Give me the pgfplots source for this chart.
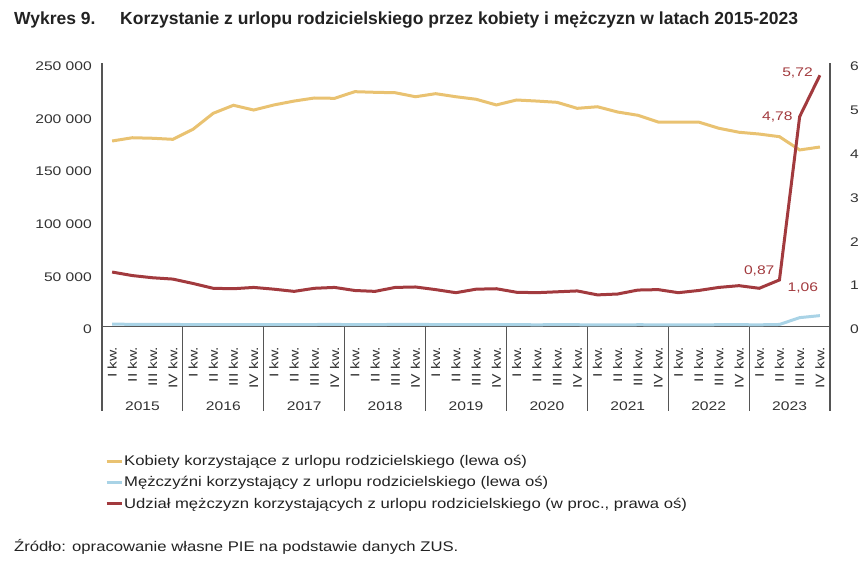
\documentclass[border=0pt]{standalone}
\usepackage{pgfplots}
\usepackage{pgfplotstable}
\pgfplotsset{compat=1.18}
\usepackage{fontspec}
\setmainfont{Liberation Sans}
\newfontfamily\tickfont[FakeStretch=1.25]{Liberation Sans}
\newfontfamily\legfont[FakeStretch=1.19]{Liberation Sans}
\definecolor{cfem}{HTML}{E9C271}
\definecolor{cmale}{HTML}{A9D3E6}
\definecolor{cshare}{HTML}{A23A3E}
\definecolor{axisgray}{HTML}{555555}
\definecolor{tickgray}{HTML}{333333}
\definecolor{textdark}{HTML}{222222}

\pgfplotstableread{
x f m s
0 176000 2210 1.24
1 179100 2100 1.16
2 178600 2000 1.11
3 177600 1940 1.08
4 187100 1850 0.98
5 202300 1780 0.87
6 209900 1820 0.86
7 205400 1840 0.89
8 210200 1800 0.85
9 213900 1730 0.80
10 216800 1900 0.87
11 216500 1940 0.89
12 222800 1840 0.82
13 222200 1790 0.80
14 221800 1990 0.89
15 218000 1980 0.90
16 220900 1870 0.84
17 218000 1690 0.77
18 215600 1850 0.85
19 210200 1820 0.86
20 214900 1690 0.78
21 213900 1660 0.77
22 212700 1690 0.79
23 207000 1690 0.81
24 208500 1510 0.72
25 203500 1520 0.74
26 200400 1680 0.83
27 194000 1640 0.84
28 194000 1510 0.77
29 194000 1600 0.82
30 188100 1690 0.89
31 184300 1730 0.93
32 182600 1600 0.87
33 180100 1930 1.06
34 167500 8410 4.78
35 170300 10330 5.72
}\data

\begin{document}
\begin{tikzpicture}
\useasboundingbox (0,0) rectangle (861pt,-565pt);
% title
\node[anchor=base west, inner sep=0pt, text=textdark, font=\bfseries\fontsize{17.5}{20}\selectfont] at (14pt,-24pt) {Wykres 9.};
\node[anchor=base west, inner sep=0pt, text=textdark, font=\bfseries\fontsize{17.5}{20}\selectfont] at (120pt,-24pt) {Korzystanie z urlopu rodzicielskiego przez kobiety i mężczyzn w latach 2015-2023};

\begin{axis}[
  at={(102pt,-326.5pt)}, anchor=south west, scale only axis,
  width=728pt, height=263.5pt,
  xmin=-0.5, xmax=35.5, ymin=0, ymax=250000,
  axis x line*=bottom, axis y line*=left,
  axis line style={-, draw=axisgray, line width=1.2pt},
  major tick length=0pt,
  xtick={0,...,35},
  xticklabels={I kw.,II kw.,III kw.,IV kw.,I kw.,II kw.,III kw.,IV kw.,I kw.,II kw.,III kw.,IV kw.,I kw.,II kw.,III kw.,IV kw.,I kw.,II kw.,III kw.,IV kw.,I kw.,II kw.,III kw.,IV kw.,I kw.,II kw.,III kw.,IV kw.,I kw.,II kw.,III kw.,IV kw.,I kw.,II kw.,III kw.,IV kw.},
  xticklabel style={font=\tickfont\fontsize{12.5}{14}\selectfont, rotate=90, anchor=east, inner sep=0pt, text=tickgray},
  xticklabel shift=20pt,
  ytick={0,50000,100000,150000,200000,250000},
  yticklabels={0,50 000,100 000,150 000,200 000,250 000},
  yticklabel style={font=\tickfont\fontsize{12.5}{14}\selectfont, anchor=east, inner sep=0pt, text=tickgray, yshift=-3pt},
  yticklabel shift=10pt,
  scaled y ticks=false,
  clip=false,
  legend cell align=left,
  legend style={at={(0.0041,-0.484)}, anchor=north west, draw=none, fill=none,
    font=\legfont\fontsize{14}{16}\selectfont, text=textdark, row sep=7.5pt,
    inner sep=0pt, nodes={inner sep=1pt}},
  legend image code/.code={\draw[#1, line width=3pt] (0pt,0pt) -- (15pt,0pt);},
]
\addplot[cfem, line width=3pt, no markers] table[x=x,y=f]{\data};
\addlegendentry{Kobiety korzystające z urlopu rodzicielskiego (lewa oś)}
\addplot[cmale, line width=3pt, no markers] table[x=x,y=m]{\data};
\addlegendentry{Mężczyźni korzystający z urlopu rodzicielskiego (lewa oś)}
\addlegendimage{cshare, line width=3pt}
\addlegendentry{Udział mężczyzn korzystających z urlopu rodzicielskiego (w proc., prawa oś)}
\end{axis}

\begin{axis}[
  at={(102pt,-326.5pt)}, anchor=south west, scale only axis,
  width=728pt, height=263.5pt,
  xmin=-0.5, xmax=35.5, ymin=0, ymax=6,
  axis x line=none, axis y line*=right,
  axis line style={-, draw=axisgray, line width=1.2pt},
  major tick length=0pt,
  ytick={0,1,2,3,4,5,6},
  yticklabels={0,1,2,3,4,5,6},
  yticklabel style={font=\tickfont\fontsize{12.5}{14}\selectfont, anchor=west, inner sep=0pt, text=tickgray, yshift=-3pt},
  yticklabel shift=20pt,
  clip=false,
]
\addplot[cshare, line width=3pt, no markers] table[x=x,y=s]{\data};
\node[anchor=east, text=cshare, font=\tickfont\fontsize{12.5}{14}\selectfont, inner sep=0pt] at (axis cs:35,5.72) [xshift=-7pt, yshift=2pt] {5,72};
\node[anchor=east, text=cshare, font=\tickfont\fontsize{12.5}{14}\selectfont, inner sep=0pt] at (axis cs:34,4.78) [xshift=-7pt] {4,78};
\node[anchor=center, text=cshare, font=\tickfont\fontsize{12.5}{14}\selectfont, inner sep=0pt] at (axis cs:32,0.87) [yshift=17pt] {0,87};
\node[anchor=west, text=cshare, font=\tickfont\fontsize{12.5}{14}\selectfont, inner sep=0pt] at (axis cs:33,1.06) [xshift=8pt, yshift=-7.5pt] {1,06};
\end{axis}

% year separators and labels
\foreach \k in {0,...,9} {
  \draw[axisgray, line width=1.2pt] (102pt+\k*80.8889pt,-326.5pt) -- (102pt+\k*80.8889pt,-411pt);
}
\foreach \y [count=\k from 0] in {2015,2016,2017,2018,2019,2020,2021,2022,2023} {
  \node[anchor=center, inner sep=0pt, text=tickgray, font=\tickfont\fontsize{12.5}{14}\selectfont] at (102pt+\k*80.8889pt+40.444pt,-406pt) {\y};
}
% source
\node[anchor=base west, inner sep=0pt, text=textdark, font=\legfont\fontsize{14}{16}\selectfont] at (14pt,-551pt) {Źródło: opracowanie własne PIE na podstawie danych ZUS.};
\end{tikzpicture}
\end{document}
